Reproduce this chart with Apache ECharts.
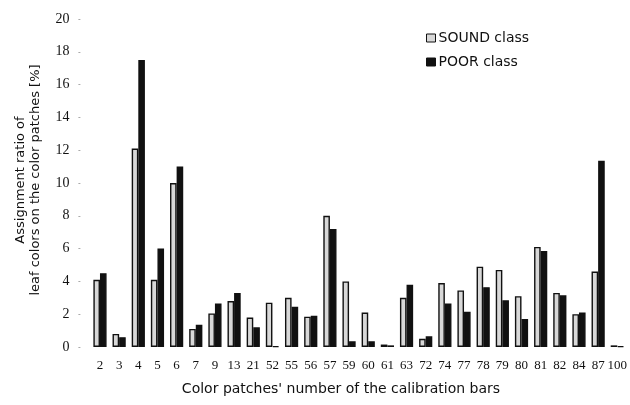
<!DOCTYPE html>
<html>
<head>
<meta charset="utf-8">
<script src="https://cdn.jsdelivr.net/npm/echarts@6/dist/echarts.min.js"></script>
<style>
html,body{margin:0;padding:0;background:#fff;}
#chart{width:630px;height:405px;}
</style>
</head>
<body>
<div id="chart"></div>
<script>
var categories = ['2','3','4','5','6','7','9','13','21','52','55','56','57','59','60','61','63','72','74','77','78','79','80','81','82','84','87','100'];
var soundValues = [4.1,0.8,12.1,4.1,10.0,1.1,2.05,2.8,1.8,2.7,3.0,1.85,8.0,4.0,2.1,0.15,3.0,0.5,3.9,3.45,4.9,4.7,3.1,6.1,3.3,2.0,4.6,0.1];
var poorValues = [4.5,0.6,17.5,6.0,11.0,1.35,2.65,3.3,1.2,0.05,2.45,1.9,7.2,0.35,0.35,0.1,3.8,0.65,2.65,2.15,3.65,2.85,1.7,5.85,3.15,2.1,11.35,0.05];
var yTicks = {min:0, max:20, interval:2};
var seriesNames = ['SOUND class','POOR class'];
var yTitle = 'Assignment ratio of\nleaf colors on the color patches [%]';
var xTitle = "Color patches' number of the calibration bars";

var chart = echarts.init(document.getElementById('chart'), null, {renderer:'canvas'});
chart.setOption({
  animation:false,
  backgroundColor:'#fff',
  grid:{left:90.4, right:0, top:19, bottom:58, containLabel:false},
  legend:{
    orient:'vertical', left:421, top:26,
    itemWidth:9, itemHeight:8, itemGap:10, icon:'rect',
    textStyle:{fontFamily:'DejaVu Sans', fontSize:14, color:'#111', padding:[0,0,0,-2]},
    data:[
      {name:seriesNames[0], itemStyle:{color:'#d8d8d8', borderColor:'#111', borderWidth:1}},
      {name:seriesNames[1], itemStyle:{color:'#111', borderColor:'#111', borderWidth:1}}
    ]
  },
  xAxis:{
    type:'category', data:categories,
    axisLine:{show:false}, axisTick:{show:false},
    axisLabel:{fontFamily:'Liberation Serif', fontSize:13, color:'#111', margin:12, interval:0}
  },
  yAxis:{
    type:'value', min:yTicks.min, max:yTicks.max, interval:yTicks.interval,
    offset:10,
    axisLine:{show:false},
    axisTick:{show:true, length:2, lineStyle:{color:'#aaa', width:1}},
    splitLine:{show:false},
    axisLabel:{fontFamily:'Liberation Serif', fontSize:14, color:'#111', margin:11}
  },
  graphic:[
    {type:'text', x:28, y:180, rotation:Math.PI/2,
     style:{text:yTitle, font:'13px "DejaVu Sans"', fill:'#111', align:'center', verticalAlign:'middle', lineHeight:15}},
    {type:'text', x:341, y:389,
     style:{text:xTitle, font:'14px "DejaVu Sans"', fill:'#111', align:'center', verticalAlign:'middle'}}
  ],
  series:[
    {name:seriesNames[0], type:'bar', data:soundValues, barWidth:6.6, barGap:'0%',
     itemStyle:{color:'#d8d8d8', borderColor:'#111', borderWidth:1.4}},
    {name:seriesNames[1], type:'bar', data:poorValues, barWidth:6.6, barGap:'0%',
     itemStyle:{color:'#111', borderColor:'#111', borderWidth:1.4}}
  ]
});
</script>
</body>
</html>
